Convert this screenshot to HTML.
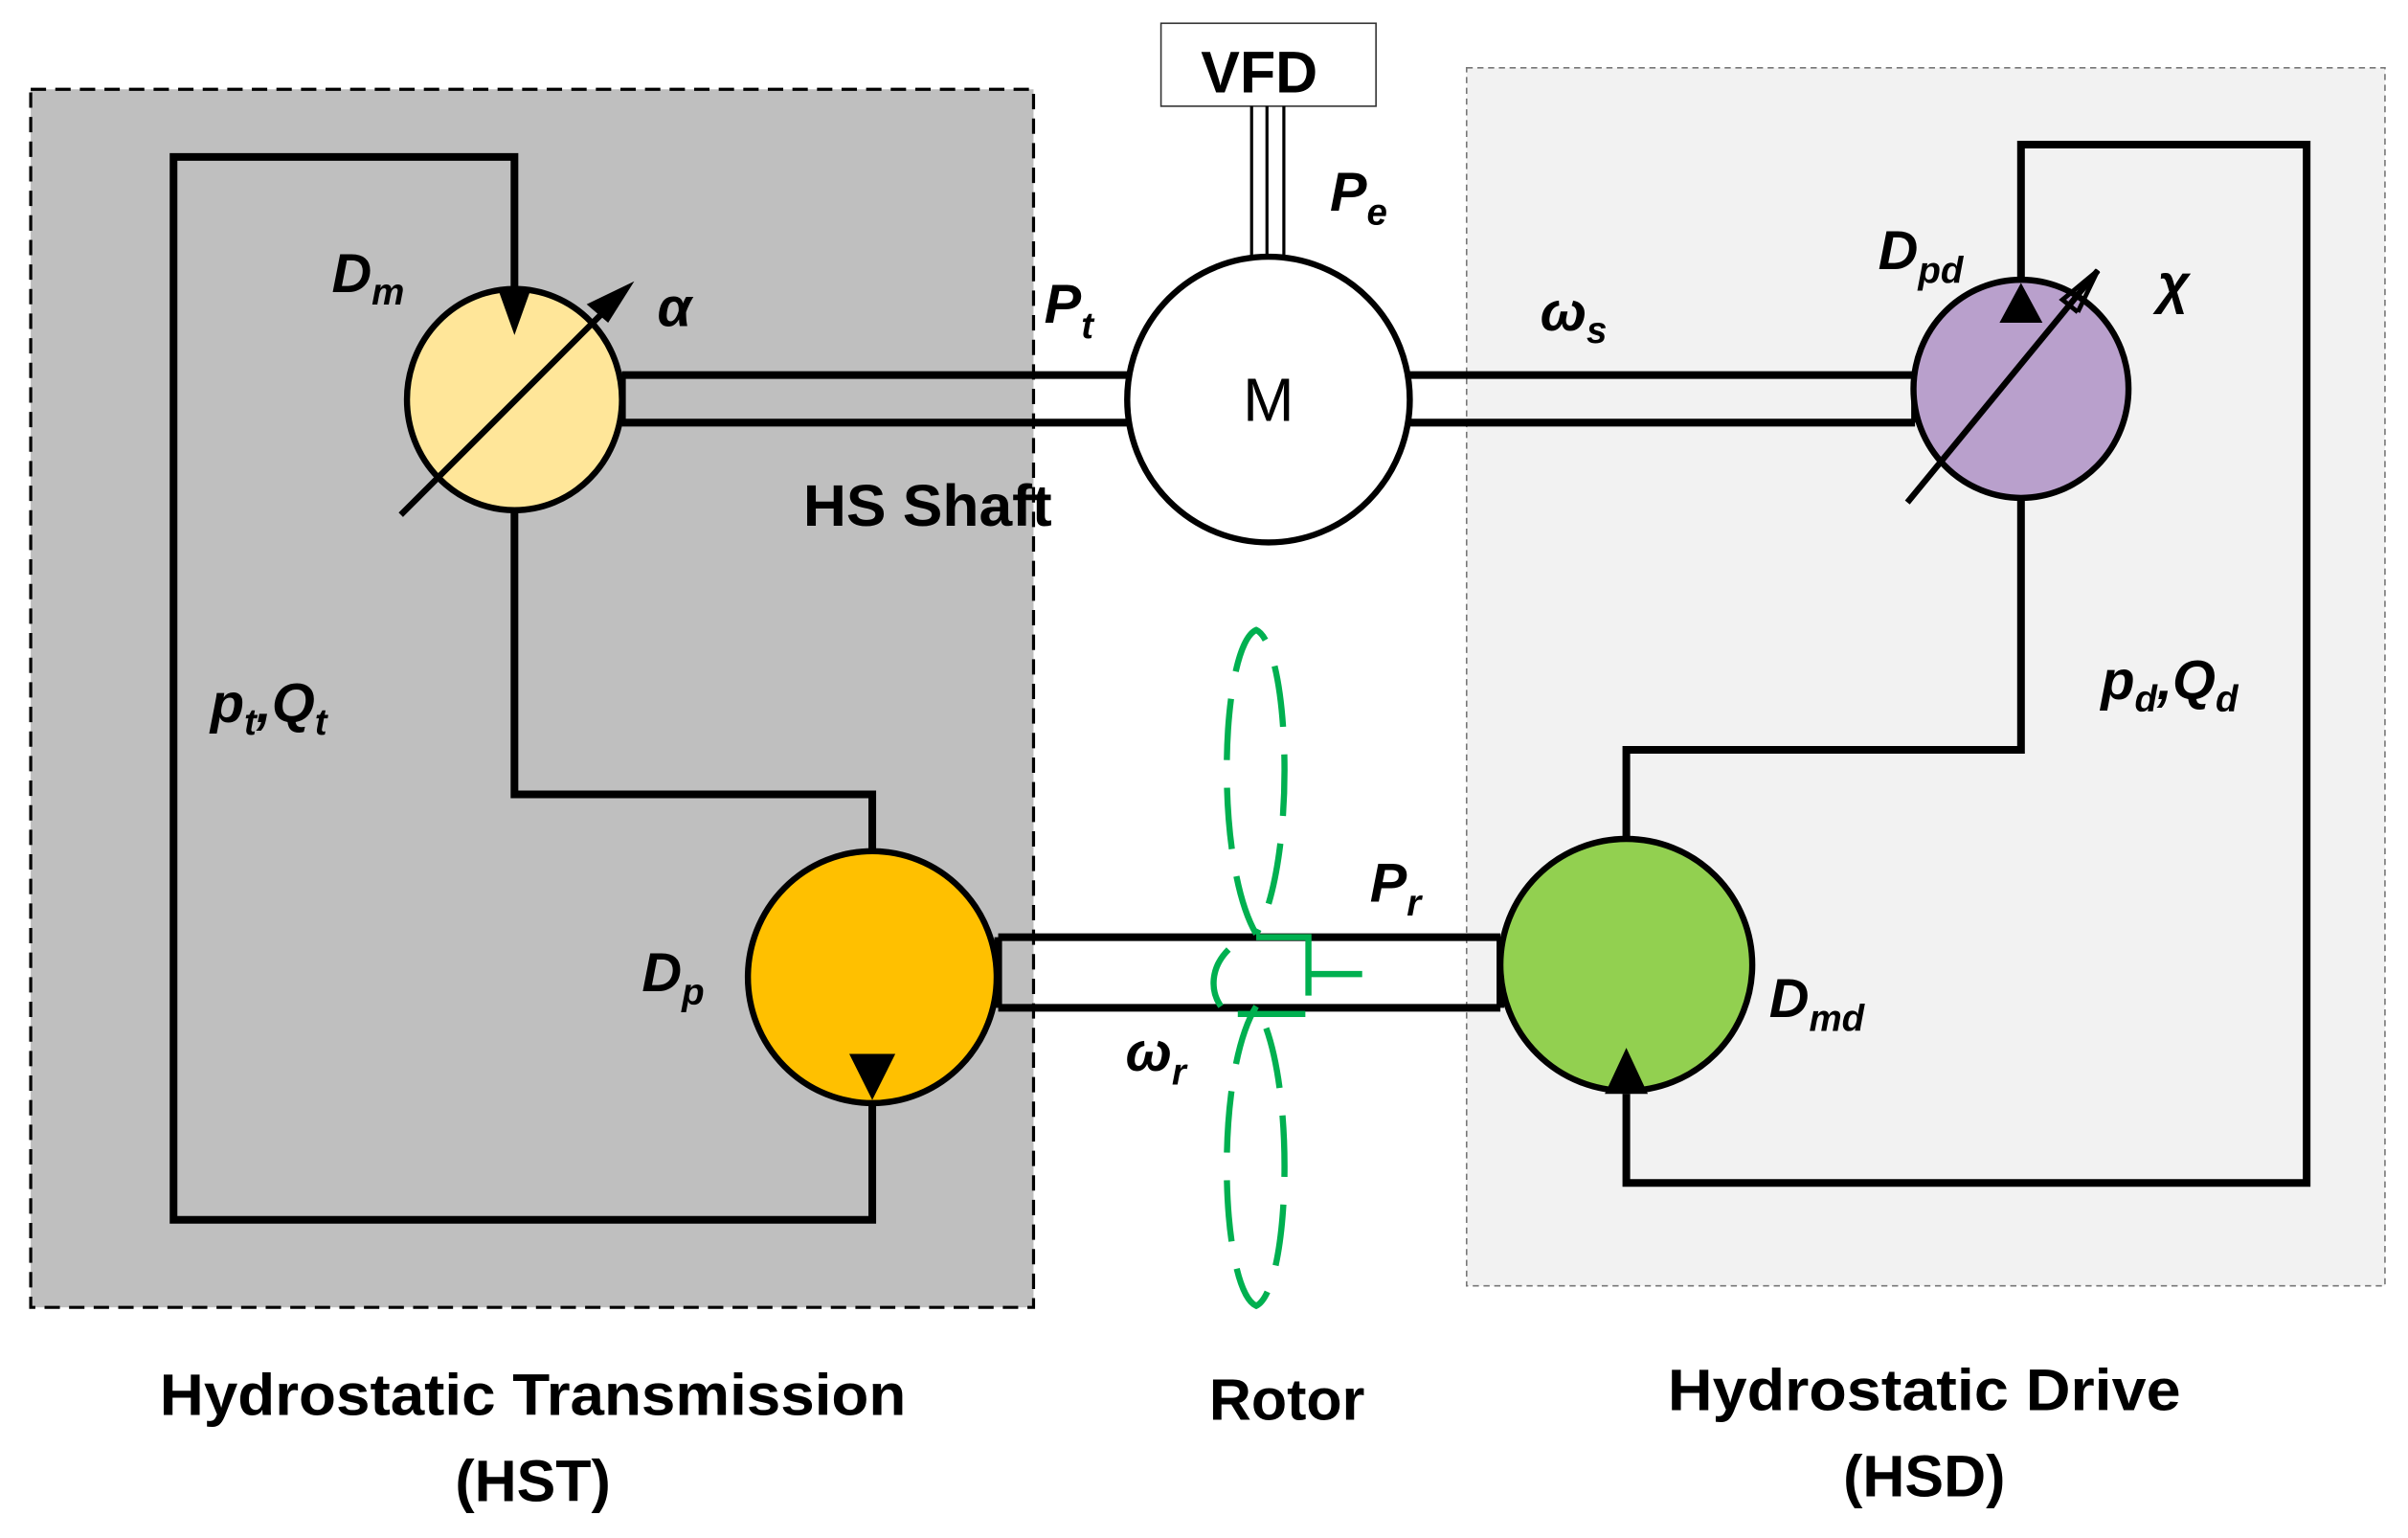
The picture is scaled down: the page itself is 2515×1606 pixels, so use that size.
<!DOCTYPE html>
<html><head><meta charset="utf-8"><style>
html,body{margin:0;padding:0;background:#fff;}
svg{display:block;}
text{font-family:"Liberation Sans",sans-serif;fill:#000;}
.lb{font-weight:bold;font-style:italic;font-size:36px;}
.t{font-weight:bold;font-size:38px;}
</style></head><body>
<svg width="2515" height="1606" viewBox="0 0 1568 1001" xmlns="http://www.w3.org/2000/svg">
<rect x="20" y="58" width="653" height="793" fill="#bfbfbf" stroke="#000" stroke-width="2" stroke-dasharray="10,6"/>
<rect x="955" y="44" width="598" height="793" fill="#f2f2f2" stroke="#777" stroke-width="1" stroke-dasharray="4,3"/>
<rect x="756" y="15" width="140" height="54" fill="#fff" stroke="#333" stroke-width="1"/>
<text x="820" y="60" class="t" text-anchor="middle" font-size="36">VFD</text>
<g stroke="#000" stroke-width="2"><line x1="815" y1="69" x2="815" y2="167"/><line x1="825" y1="69" x2="825" y2="167"/><line x1="836" y1="69" x2="836" y2="167"/></g>
<g stroke="#000" stroke-width="5" fill="none">
<line x1="405" y1="244" x2="735" y2="244"/><line x1="405" y1="275" x2="735" y2="275"/>
<line x1="918" y1="244" x2="1247" y2="244"/><line x1="918" y1="275" x2="1247" y2="275"/>
<line x1="650" y1="610" x2="977" y2="610"/><line x1="650" y1="656" x2="977" y2="656"/>
<line x1="650" y1="610" x2="650" y2="656"/><line x1="977" y1="610" x2="977" y2="656"/>
<line x1="405" y1="244" x2="405" y2="275"/><line x1="1247" y1="244" x2="1247" y2="275"/>
<polyline points="335,188 335,102 113,102 113,794 568,794 568,718"/>
<polyline points="335,332 335,517 568,517 568,553"/>
<polyline points="1059,547 1059,488 1316,488 1316,324"/>
<polyline points="1316,182 1316,94 1502,94 1502,770 1059,770 1059,712"/>
</g>
<ellipse cx="826" cy="260" rx="92" ry="93" fill="#fff" stroke="#000" stroke-width="4"/>
<text x="826" y="274" text-anchor="middle" font-size="40">M</text>
<ellipse cx="335" cy="260" rx="70" ry="72" fill="#ffe699" stroke="#000" stroke-width="4"/>
<polygon points="325,190 345,190 335,218" fill="#000"/>
<line x1="261" y1="335" x2="400" y2="196" stroke="#000" stroke-width="4"/>
<polygon points="413,183 396,210 382,198" fill="#000"/>
<ellipse cx="1316" cy="253" rx="70" ry="71" fill="#b9a0cc" stroke="#000" stroke-width="4"/>
<polygon points="1316,184 1330,210 1302,210" fill="#000"/>
<line x1="1242" y1="327" x2="1366" y2="176" stroke="#000" stroke-width="4"/>
<polyline points="1353,203 1366,176 1343,195 1353,203" fill="none" stroke="#000" stroke-width="3"/>
<ellipse cx="568" cy="636" rx="81" ry="82" fill="#ffc000" stroke="#000" stroke-width="4"/>
<polygon points="553,686 583,686 568,716" fill="#000"/>
<ellipse cx="1059" cy="628" rx="82" ry="82" fill="#92d050" stroke="#000" stroke-width="4"/>
<polygon points="1059,682 1073,712 1045,712" fill="#000"/>
<g stroke="#00b050" stroke-width="4" fill="none" stroke-dasharray="40,18">
<path d="M818,608 C790,560 795,420 818,410 C840,420 845,560 818,608"/>
<path d="M818,655 C790,700 795,840 818,850 C840,840 845,700 818,655"/>
</g>
<g stroke="#00b050" stroke-width="4" fill="none">
<path d="M800,618 C788,630 788,645 795,655"/>
<polyline points="818,610 852,610 852,648"/><line x1="852" y1="634" x2="887" y2="634"/>
<line x1="806" y1="660" x2="850" y2="660"/>
</g>
<text x="216" y="190" class="lb">D<tspan font-size="24" dy="8">m</tspan></text>
<text x="428" y="212" class="lb">α</text>
<text x="680" y="210" class="lb">P<tspan font-size="24" dy="10">t</tspan></text>
<text x="523" y="342" class="t" font-size="36" textLength="162" lengthAdjust="spacingAndGlyphs">HS Shaft</text>
<text x="137" y="470" class="lb">p<tspan font-size="24" dy="8">t</tspan><tspan dy="-8">,</tspan>Q<tspan font-size="24" dy="8">t</tspan></text>
<text x="866" y="137" class="lb">P<tspan font-size="24" dy="9">e</tspan></text>
<text x="1003" y="215" class="lb">ω<tspan font-size="24" dy="8">s</tspan></text>
<text x="1223" y="175" class="lb">D<tspan font-size="24" dy="9">pd</tspan></text>
<text x="1405" y="197" class="lb">χ</text>
<text x="1368" y="455" class="lb">p<tspan font-size="24" dy="8">d</tspan><tspan dy="-8">,</tspan>Q<tspan font-size="24" dy="8">d</tspan></text>
<text x="418" y="645" class="lb">D<tspan font-size="24" dy="9">p</tspan></text>
<text x="733" y="697" class="lb">ω<tspan font-size="24" dy="9">r</tspan></text>
<text x="892" y="587" class="lb">P<tspan font-size="24" dy="9">r</tspan></text>
<text x="1152" y="662" class="lb">D<tspan font-size="24" dy="9">md</tspan></text>
<text x="347" y="921" class="t" text-anchor="middle" textLength="486" lengthAdjust="spacingAndGlyphs">Hydrostatic Transmission</text>
<text x="347" y="977" class="t" text-anchor="middle">(HST)</text>
<text x="838" y="924" class="t" text-anchor="middle">Rotor</text>
<text x="1253" y="918" class="t" text-anchor="middle" textLength="334" lengthAdjust="spacingAndGlyphs">Hydrostatic Drive</text>
<text x="1253" y="974" class="t" text-anchor="middle">(HSD)</text>
</svg>
</body></html>
